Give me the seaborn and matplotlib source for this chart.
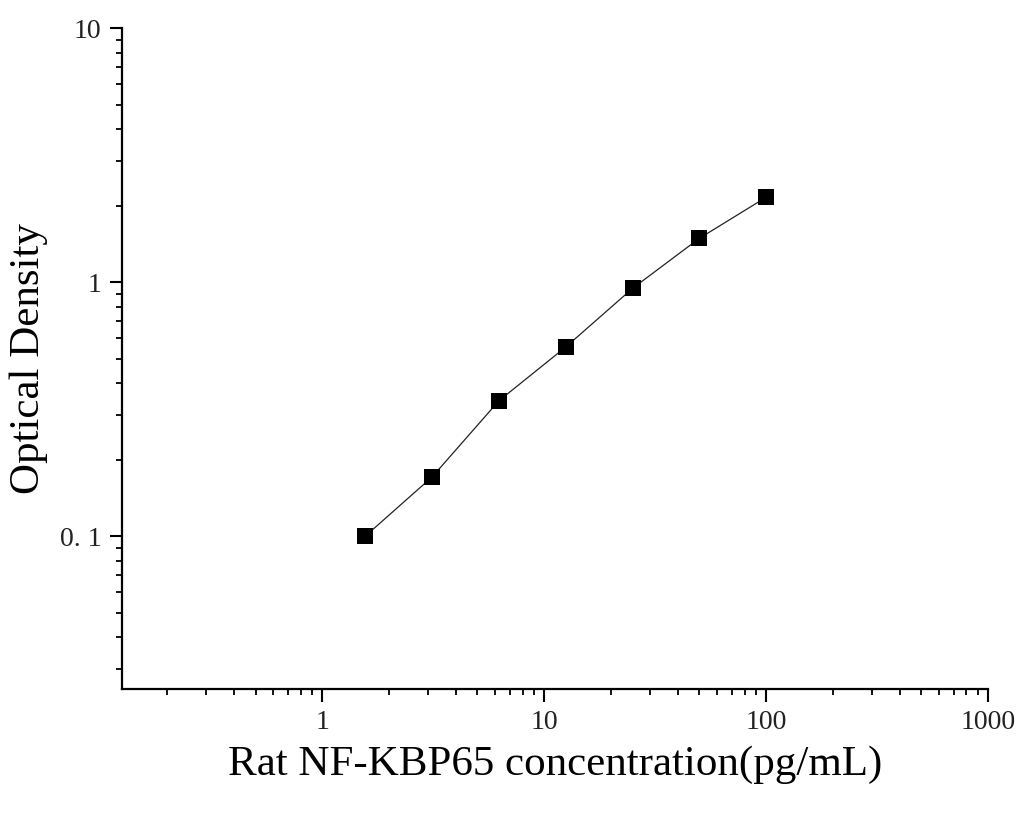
import matplotlib
matplotlib.use("Agg")
import matplotlib.pyplot as plt
import matplotlib.ticker as mticker
import seaborn as sns
import pandas as pd

# standard curve values
concentration = [1.5625, 3.125, 6.25, 12.5, 25, 50, 100]
optical_density = [0.100, 0.171, 0.341, 0.555, 0.944, 1.486, 2.156]

x_ticks = [1, 10, 100, 1000]
x_tick_labels = ["1", "10", "100", "1000"]
y_ticks = [0.1, 1, 10]
y_tick_labels = ["0. 1", "1", "10"]

df = pd.DataFrame({"conc": concentration, "od": optical_density})

sns.set_style("ticks")
plt.rcParams["font.family"] = ["Liberation Serif", "DejaVu Serif"]
plt.rcParams["text.color"] = "black"
plt.rcParams["axes.labelcolor"] = "black"

fig = plt.figure(figsize=(10.22, 8.15), dpi=100)
ax = fig.add_axes([0.1194, 0.1546, 0.9667 - 0.1194, 0.9656 - 0.1546])

sns.lineplot(data=df, x="conc", y="od", ax=ax, color="#222222", linewidth=0.9)
sns.scatterplot(data=df, x="conc", y="od", ax=ax, marker="s", s=120,
                color="black", edgecolor="black", linewidth=0, zorder=3)

ax.set_xscale("log")
ax.set_yscale("log")
ax.set_xlim(0.125, 1000)
ax.set_ylim(0.025, 10)

ax.xaxis.set_major_locator(mticker.FixedLocator(x_ticks))
ax.xaxis.set_major_formatter(mticker.FixedFormatter(x_tick_labels))
ax.yaxis.set_major_locator(mticker.FixedLocator(y_ticks))
ax.yaxis.set_major_formatter(mticker.FixedFormatter(y_tick_labels))
ax.xaxis.set_minor_locator(mticker.LogLocator(base=10, subs=range(2, 10), numticks=20))
ax.yaxis.set_minor_locator(mticker.LogLocator(base=10, subs=range(2, 10), numticks=20))
ax.xaxis.set_minor_formatter(mticker.NullFormatter())
ax.yaxis.set_minor_formatter(mticker.NullFormatter())

sns.despine(ax=ax)
for side in ["left", "bottom"]:
    ax.spines[side].set_linewidth(1.6)
    ax.spines[side].set_color("black")

ax.tick_params(which="major", length=9, width=1.5, labelsize=20, direction="out",
               colors="black", labelcolor="#222222", pad=6)
ax.tick_params(which="minor", length=4.5, width=1.3, direction="out", colors="black")

ax.set_xlabel("Rat NF-KBP65 concentration(pg/mL)", fontsize=31, labelpad=8)
ax.set_ylabel("Optical Density", fontsize=31, labelpad=8)

fig.savefig("out.png", dpi=100)
plt.close(fig)
